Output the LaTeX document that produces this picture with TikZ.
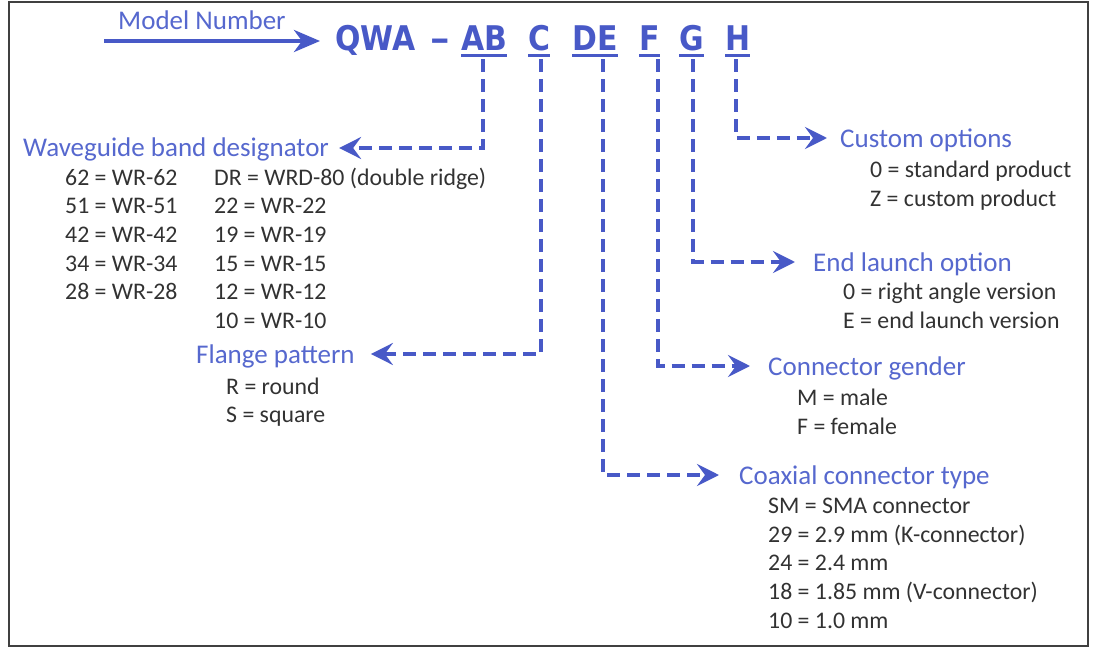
\documentclass[tikz,border=0pt]{standalone}
\usepackage{fontspec}
\setmainfont{Carlito}
\newfontfamily\codefont{DejaVu Sans}[FakeStretch=0.88]
\usetikzlibrary{arrows.meta}

\definecolor{qblue}{RGB}{72,89,199}
\definecolor{qtitle}{RGB}{86,104,206}
\definecolor{qtext}{RGB}{50,50,50}

\tikzset{
  field/.style={anchor=base west, inner sep=0pt, text=qtitle, text height=22pt, text depth=4pt, font=\fontsize{27}{30}\selectfont},
  entry/.style={anchor=base west, inner sep=0pt, text=qtext, font=\fontsize{23.8}{28}\selectfont},
  code/.style={anchor=base west, inner sep=0pt, text=qblue, text height=25pt, text depth=0pt, font=\codefont\bfseries\fontsize{34}{40}\selectfont},
  uline/.style={draw=qblue, line width=3pt},
  pointer/.style={draw=qblue, line width=4pt, dash pattern=on 13pt off 7pt, -{Stealth[length=22pt, width=22pt, inset=8pt]}},
}

\begin{document}
\begin{tikzpicture}[x=1pt, y=-1pt]
\useasboundingbox (0,0) rectangle (1100,650);
\draw[line width=2.5pt, black!75] (9,2) rectangle (1088,646);

% model number and its fields
\node[field] (mnlabel) at (118,30) {Model Number};
\node[code] (qwa) at (335,51) {QWA};
\node[code] (dash) at (430,51) {\scalebox{1.3}[1]{–}};
\node[code] (ab) at (461,51) {AB};
\node[code] (c) at (528,51) {C};
\node[code] (de) at (572,51) {DE};
\node[code] (f) at (639,51) {F};
\node[code] (g) at (679,51) {G};
\node[code] (h) at (725,51) {H};
\coordinate (mnstart) at (104,41);
\draw[draw=qblue, line width=4pt, -{Stealth[length=26pt, width=22pt, inset=8pt]}, shorten >=15pt] (mnstart) -- (mnstart -| qwa.west);
\foreach \n in {ab,c,de,f,g,h}
  \draw[uline] ([yshift=-4pt]\n.south west) -- ([yshift=-4pt]\n.south east);

% waveguide band
\node[field] (band) at (23,157) {Waveguide band designator};
\foreach \v [count=\i] in {62,51,42,34,28}
  \node[entry] (bandl\i) at (65,{185+28.7*(\i-1)}) {\v{} = WR-\v};
\node[entry] (bandr1) at (214,185) {DR = WRD-80 (double ridge)};
\foreach \v [count=\i from 2] in {22,19,15,12,10}
  \node[entry] (bandr\i) at (214,{185+28.7*(\i-1)}) {\v{} = WR-\v};

% flange
\node[field] (flange) at (196,363) {Flange pattern};
\node[entry] (flange1) at (226,394) {R = round};
\node[entry] (flange2) at (226,422) {S = square};

% custom options
\node[field] (custom) at (840,147) {Custom options};
\node[entry] (custom1) at (870,177) {0 = standard product};
\node[entry] (custom2) at (870,206) {Z = custom product};

% end launch
\node[field] (endl) at (813,271) {End launch option};
\node[entry] (endl1) at (843,299) {0 = right angle version};
\node[entry] (endl2) at (843,328) {E = end launch version};

% connector gender
\node[field] (gender) at (768,375) {Connector gender};
\node[entry] (gender1) at (797,405) {M = male};
\node[entry] (gender2) at (797,434) {F = female};

% coaxial connector
\node[field] (coax) at (739,484) {Coaxial connector type};
\node[entry] (coax1) at (768,513) {SM = SMA connector};
\node[entry] (coax2) at (768,542) {29 = 2.9 mm (K-connector)};
\node[entry] (coax3) at (768,570) {24 = 2.4 mm};
\node[entry] (coax4) at (768,599) {18 = 1.85 mm (V-connector)};
\node[entry] (coax5) at (768,628) {10 = 1.0 mm};

% dashed pointers
\draw[pointer, shorten >=10pt] ([xshift=-1pt,yshift=-8pt]ab.south) |- (band.east);
\draw[pointer, shorten >=16pt] ([xshift=2pt,yshift=-8pt]c.south) |- (flange.east);
\draw[pointer, shorten >=20pt] ([xshift=8pt,yshift=-8pt]de.south) |- (coax.west);
\draw[pointer, shorten >=18pt] ([xshift=9pt,yshift=-8pt]f.south) |- (gender.west);
\draw[pointer, shorten >=18pt] ([xshift=2pt,yshift=-8pt]g.south) |- (endl.west);
\draw[pointer, shorten >=13pt] ([xshift=-2pt,yshift=-8pt]h.south) |- (custom.west);
\end{tikzpicture}
\end{document}
